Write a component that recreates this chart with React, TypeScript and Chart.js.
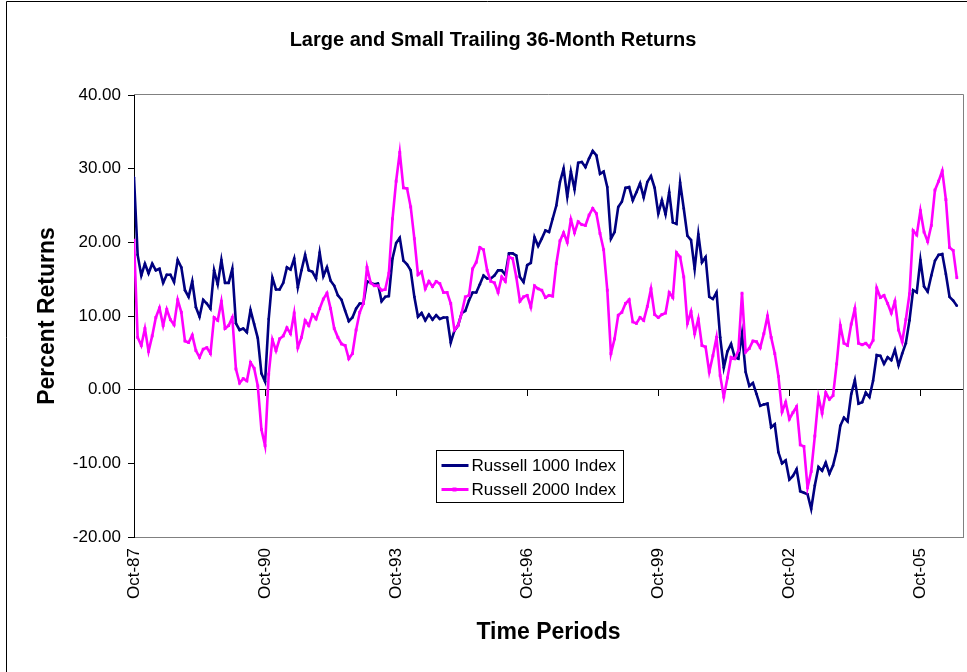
import React, { useEffect, useRef } from "react";
import { Chart, registerables } from "chart.js";

Chart.register(...registerables);

const TITLE = "Large and Small Trailing 36-Month Returns";
const Y_TITLE = "Percent Returns";
const X_TITLE = "Time Periods";
const SERIES_NAMES = ["Russell 1000 Index", "Russell 2000 Index"];
const SERIES_COLORS = ["#000080", "#FF00FF"];

// month offsets (from Oct-87) of the labelled ticks
const TICK_MONTHS = [0, 36, 72, 108, 144, 180, 216];
const TICK_LABELS = ["Oct-87", "Oct-90", "Oct-93", "Oct-96", "Oct-99", "Oct-02", "Oct-05"];
const Y_MIN = -20;
const Y_MAX = 40;
const Y_STEP = 10;

// monthly trailing 36-month returns, Oct-87 .. Aug-06
const RUSSELL_1000 = [
  28.8, 18.3, 15.5, 17.1, 15.8, 17.1, 16.2, 16.4, 14.5, 15.6,
  15.6, 14.6, 17.6, 16.6, 13.5, 12.6, 14.7, 11.2, 9.9, 12.2,
  11.7, 11.0, 16.2, 14.3, 17.6, 14.5, 14.5, 16.4, 9.0, 8.1,
  8.3, 7.8, 10.8, 8.9, 7.0, 2.2, 1.1, 9.6, 15.2, 13.6,
  13.6, 14.5, 16.6, 16.3, 17.8, 13.9, 16.2, 18.3, 16.2, 16.0,
  15.1, 18.6, 15.4, 16.6, 14.8, 14.1, 12.8, 12.2, 10.7, 9.3,
  9.8, 11.0, 11.7, 11.7, 14.7, 14.5, 14.3, 14.4, 12.0, 12.6,
  12.7, 17.8, 19.9, 20.6, 17.5, 17.0, 16.2, 12.6, 9.9, 10.4,
  9.4, 10.2, 9.5, 10.1, 9.6, 9.8, 9.8, 6.4, 8.0, 8.7,
  10.4, 10.7, 12.1, 13.2, 13.2, 14.3, 15.5, 15.1, 15.1, 15.5,
  16.2, 16.2, 15.6, 18.5, 18.5, 18.2, 15.3, 14.6, 16.9, 17.2,
  20.7, 19.5, 20.5, 21.6, 21.4, 23.2, 25.0, 28.2, 30.0, 26.2,
  29.6, 27.2, 30.8, 30.9, 30.2, 31.4, 32.4, 31.8, 29.3, 29.6,
  27.5, 20.5, 21.4, 24.8, 25.5, 27.4, 27.5, 25.7, 26.8, 28.0,
  26.1, 28.2, 29.0, 27.4, 23.9, 25.7, 23.8, 26.8, 22.7, 22.5,
  28.1, 24.6, 20.9, 20.3, 16.4, 21.1, 17.3, 18.0, 12.6, 12.3,
  13.2, 7.1, 3.0, 5.2, 6.2, 4.4, 4.2, 7.6, 2.4, 0.5,
  0.9, -0.6, -2.2, -2.0, -1.9, -5.1, -4.7, -8.5, -10.0, -9.6,
  -12.2, -11.7, -10.8, -13.8, -14.0, -14.2, -16.2, -13.0, -10.5, -11.0,
  -9.9, -11.4, -10.3, -8.3, -4.9, -3.8, -4.3, -0.6, 1.3, -1.9,
  -1.7, -0.4, -1.0, 1.2, 4.7, 4.6, 3.5, 4.4, 4.0, 5.4,
  3.3, 4.9, 6.3, 9.4, 13.5, 13.2, 17.6, 14.0, 13.3, 15.5,
  17.5, 18.3, 18.4, 15.7, 12.6, 12.1, 11.4,
];

const RUSSELL_2000 = [
  20.3, 7.1, 6.0, 8.3, 5.2, 7.3, 9.8, 11.1, 8.7, 10.9,
  9.5, 8.8, 12.2, 10.5, 6.6, 6.4, 7.4, 5.3, 4.4, 5.5,
  5.7, 4.9, 9.8, 9.4, 12.0, 8.3, 8.7, 9.8, 2.8, 0.9,
  1.5, 1.2, 3.7, 2.9, 0.5, -5.4, -7.6, 2.1, 6.8, 5.3,
  6.9, 7.3, 8.4, 7.6, 10.4, 5.7, 7.1, 9.4, 8.7, 10.2,
  9.6, 11.0, 12.3, 13.1, 11.0, 8.3, 7.1, 6.2, 6.0, 4.2,
  4.9, 8.1, 10.5, 11.7, 16.6, 14.5, 14.1, 14.1, 13.5, 13.6,
  15.8, 23.2, 28.3, 32.2, 27.4, 27.3, 24.8, 20.5, 15.6, 16.0,
  13.7, 14.7, 14.0, 14.7, 14.4, 13.2, 13.2, 11.7, 8.1, 8.7,
  10.4, 12.6, 12.8, 16.4, 17.3, 19.3, 19.0, 16.2, 14.7, 14.5,
  13.2, 15.3, 14.7, 18.0, 17.8, 15.3, 12.0, 12.6, 12.8, 11.2,
  14.1, 13.7, 13.5, 12.5, 12.8, 12.7, 17.1, 20.2, 21.3, 20.0,
  23.1, 21.3, 22.8, 22.4, 22.3, 23.7, 24.6, 23.9, 21.2, 19.0,
  13.5, 4.9, 6.9, 10.1, 10.5, 11.7, 12.2, 9.2, 9.0, 9.8,
  9.4, 11.3, 13.7, 10.2, 9.8, 10.2, 10.4, 13.2, 12.5, 18.6,
  18.0, 15.3, 9.0, 10.6, 7.6, 9.6, 6.0, 5.8, 2.4, 4.6,
  7.1, 1.9, -1.0, 1.6, 4.4, 4.2, 5.3, 13.1, 5.1, 5.6,
  6.6, 6.5, 5.7, 7.6, 10.0, 7.1, 4.9, 1.8, -3.0, -1.7,
  -4.0, -3.1, -2.3, -7.5, -7.7, -13.3, -11.1, -6.3, -1.0, -3.2,
  -0.4, -1.3, -0.8, 3.5, 8.7, 6.3, 6.0, 8.9, 11.0, 6.3,
  6.1, 6.3, 5.8, 6.7, 13.8, 12.5, 12.8, 11.7, 10.4, 12.0,
  8.1, 6.5, 9.5, 13.0, 21.6, 21.0, 24.3, 21.4, 20.1, 22.3,
  27.1, 28.3, 29.7, 25.8, 19.3, 18.9, 15.2,
];

const FONT = "'Liberation Sans', Arial, Helvetica, sans-serif";

const decorPlugin = {
  id: "decor",
  beforeDraw(chart: any) {
    const { ctx, width, height } = chart;
    ctx.save();
    ctx.fillStyle = "#ffffff";
    ctx.fillRect(0, 0, width, height);
    // outer chart frame (left & top visible)
    ctx.strokeStyle = "#000000";
    ctx.lineWidth = 1;
    ctx.beginPath();
    ctx.moveTo(6.5, height + 5);
    ctx.lineTo(6.5, 1.5);
    ctx.lineTo(width + 5, 1.5);
    ctx.stroke();
    // chart title
    ctx.fillStyle = "#000000";
    ctx.font = `bold 20px ${FONT}`;
    ctx.textAlign = "center";
    ctx.textBaseline = "middle";
    ctx.fillText(TITLE, 493, 40);
    ctx.restore();
  },
  beforeDatasetsDraw(chart: any) {
    const { ctx, chartArea: a, scales } = chart;
    ctx.save();
    ctx.strokeStyle = "#808080";
    ctx.lineWidth = 1;
    ctx.beginPath();
    ctx.moveTo(a.left, Math.round(a.top) - 0.5);
    ctx.lineTo(Math.round(a.right) + 0.5, Math.round(a.top) - 0.5);
    ctx.lineTo(Math.round(a.right) + 0.5, a.bottom);
    ctx.stroke();
    // category tick marks on the zero line
    const y0 = Math.round(scales.y.getPixelForValue(0));
    ctx.strokeStyle = "#000000";
    ctx.beginPath();
    for (const m of TICK_MONTHS) {
      const x = Math.round(scales.x.getPixelForValue(m)) + 0.5;
      ctx.moveTo(x, y0);
      ctx.lineTo(x, y0 + 6);
    }
    ctx.stroke();
    ctx.restore();
  },
  afterDraw(chart: any) {
    const { ctx, chartArea: a } = chart;
    ctx.save();
    ctx.font = `17px ${FONT}`;
    const textW = Math.max(...SERIES_NAMES.map((n) => ctx.measureText(n).width));
    const bx = Math.round(a.left + (a.right - a.left) * 0.3645) + 0.5;
    const by = Math.round(a.top + (a.bottom - a.top) * 0.803) + 0.5;
    const bw = Math.round(5 + 27 + 4 + textW + 6);
    const bh = 52;
    ctx.fillStyle = "#ffffff";
    ctx.fillRect(bx, by, bw, bh);
    ctx.strokeStyle = "#000000";
    ctx.lineWidth = 1;
    ctx.strokeRect(bx, by, bw, bh);
    SERIES_NAMES.forEach((name, i) => {
      const cy = by + 15 + i * 24;
      const color = SERIES_COLORS[i];
      ctx.strokeStyle = color;
      ctx.lineWidth = 3;
      ctx.beginPath();
      ctx.moveTo(bx + 5, cy);
      ctx.lineTo(bx + 32, cy);
      ctx.stroke();
      ctx.fillStyle = color;
      if (i === 1) ctx.fillRect(bx + 16, cy - 2, 4, 4);
      else ctx.fillRect(bx + 17, cy - 1.5, 3, 3);
      ctx.fillStyle = "#000000";
      ctx.textAlign = "left";
      ctx.textBaseline = "middle";
      ctx.fillText(name, bx + 35, cy + 1);
    });
    ctx.restore();
  },
};

export default function App() {
  const canvasRef = useRef<HTMLCanvasElement | null>(null);

  useEffect(() => {
    const canvas = canvasRef.current;
    if (!canvas) return;
    Chart.defaults.font.family = FONT;
    const chart = new Chart(canvas, {
      type: "line",
      data: {
        datasets: [
          {
            label: SERIES_NAMES[0],
            data: RUSSELL_1000.map((v, i) => ({ x: i, y: v })),
            borderColor: SERIES_COLORS[0],
            backgroundColor: SERIES_COLORS[0],
            borderWidth: 2.6,
            pointStyle: "circle",
            pointRadius: 1.3,
            pointBorderWidth: 0,
            pointBackgroundColor: SERIES_COLORS[0],
            tension: 0,
            order: 1,
          },
          {
            label: SERIES_NAMES[1],
            data: RUSSELL_2000.map((v, i) => ({ x: i, y: v })),
            borderColor: SERIES_COLORS[1],
            backgroundColor: SERIES_COLORS[1],
            borderWidth: 2.6,
            pointStyle: "rect",
            pointRadius: 2,
            pointBorderWidth: 0,
            pointBackgroundColor: SERIES_COLORS[1],
            tension: 0,
            order: 0,
          },
        ],
      },
      options: {
        responsive: false,
        animation: false,
        devicePixelRatio: 1,
        layout: { padding: { top: 95, right: 3, left: 0, bottom: 0 } },
        plugins: {
          legend: { display: false },
          title: { display: false },
          tooltip: { enabled: false },
        },
        scales: {
          x: {
            type: "linear",
            min: 0,
            max: 227.7,
            afterBuildTicks: (s: any) => {
              s.ticks = TICK_MONTHS.map((v) => ({ value: v }));
            },
            afterFit: (s: any) => {
              s.height = 135;
            },
            ticks: {
              autoSkip: false,
              minRotation: 90,
              maxRotation: 90,
              padding: 11,
              color: "#000000",
              font: { size: 17 },
              callback: (v: any) => {
                const k = TICK_MONTHS.indexOf(Number(v));
                return k >= 0 ? TICK_LABELS[k] : "";
              },
            },
            grid: { drawOnChartArea: false, drawTicks: false },
            border: { color: "#808080" },
            title: {
              display: true,
              text: X_TITLE,
              color: "#000000",
              font: { size: 23, weight: "bold" },
              padding: { top: 0, bottom: 26 },
            },
          },
          y: {
            min: Y_MIN,
            max: Y_MAX,
            afterFit: (s: any) => {
              s.width = 134;
            },
            ticks: {
              stepSize: Y_STEP,
              color: "#000000",
              font: { size: 17 },
              padding: 7,
              callback: (v: any) => Number(v).toFixed(2),
            },
            grid: {
              color: (c: any) => (c.tick && c.tick.value === 0 ? "#000000" : "rgba(0,0,0,0)"),
              tickColor: "#000000",
              tickLength: 6,
              lineWidth: 1,
            },
            border: { color: "#000000" },
            title: {
              display: true,
              text: Y_TITLE,
              color: "#000000",
              font: { size: 23, weight: "bold" },
              padding: { top: 34, bottom: 0 },
            },
          },
        },
      },
      plugins: [decorPlugin],
    } as any);
    return () => chart.destroy();
  }, []);

  return (
    <div style={{ position: "absolute", left: 0, top: 0, width: 967, height: 672, background: "#fff" }}>
      <canvas ref={canvasRef} width={967} height={672} style={{ display: "block", width: 967, height: 672 }} />
    </div>
  );
}
